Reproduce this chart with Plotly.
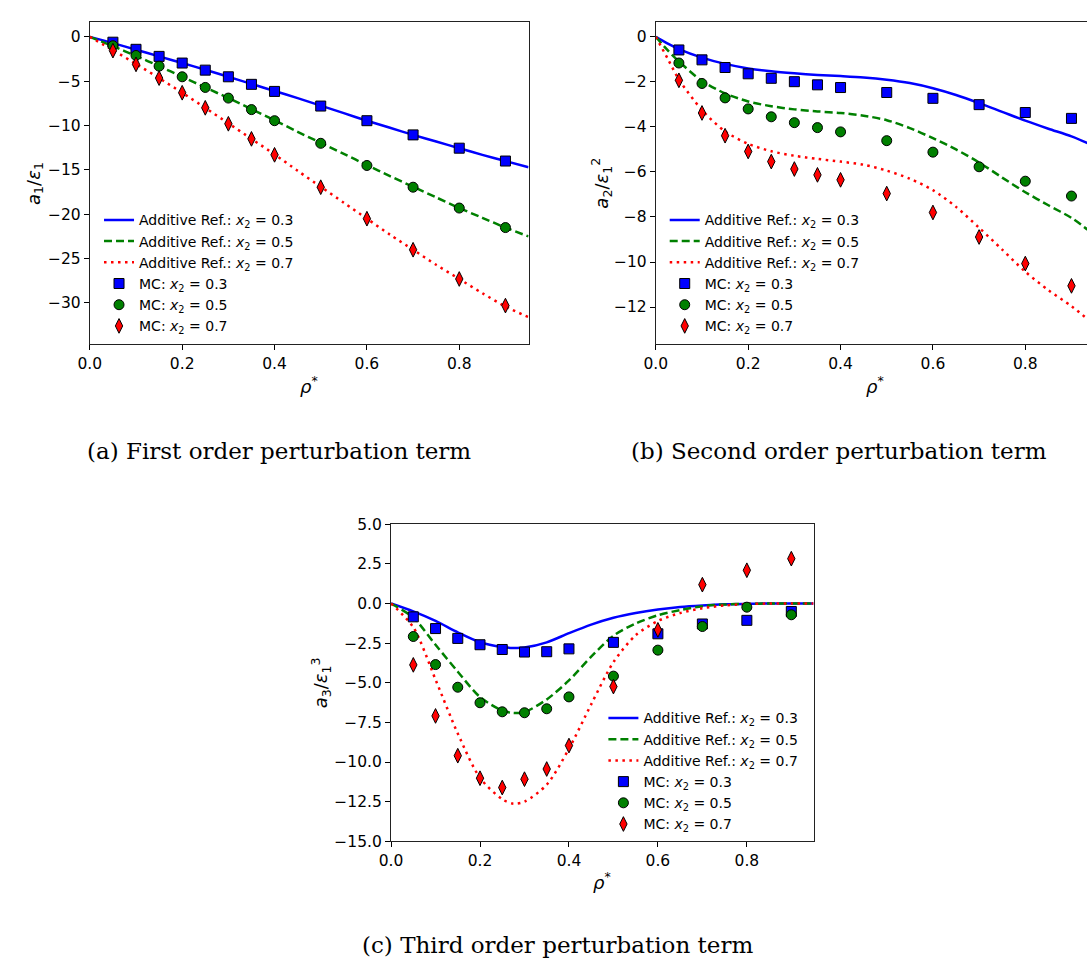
import plotly.graph_objects as go

# ---------------------------------------------------------------- data
# Monte Carlo state points (reduced density)
rho_mc = [0.05, 0.1, 0.15, 0.2, 0.25, 0.3, 0.35, 0.4, 0.5, 0.6, 0.7, 0.8, 0.9]

# First order term a1/eps1
a1_mc_03 = [-0.6, -1.4, -2.2, -2.95, -3.75, -4.5, -5.35, -6.15, -7.8, -9.45, -11.05, -12.55, -14.0]
a1_mc_05 = [-1.0, -2.1, -3.3, -4.5, -5.7, -6.9, -8.2, -9.45, -12.0, -14.5, -16.95, -19.3, -21.5]
a1_mc_07 = [-1.55, -3.1, -4.65, -6.3, -8.0, -9.8, -11.5, -13.3, -16.95, -20.5, -24.0, -27.3, -30.3]

rho_ref_a = [0.0, 0.05, 0.1, 0.15, 0.2, 0.25, 0.3, 0.35, 0.4, 0.45, 0.5,
             0.55, 0.6, 0.65, 0.7, 0.75, 0.8, 0.85, 0.9, 0.95]
a1_ref_03 = [0.0, -0.7, -1.45, -2.2, -2.95, -3.7, -4.5, -5.3, -6.1, -6.9, -7.75,
             -8.6, -9.45, -10.25, -11.05, -11.8, -12.55, -13.3, -14.0, -14.7]
a1_ref_05 = [0.0, -1.05, -2.15, -3.3, -4.5, -5.7, -6.9, -8.15, -9.4, -10.7, -11.95,
             -13.2, -14.45, -15.7, -16.9, -18.1, -19.3, -20.4, -21.5, -22.5]
a1_ref_07 = [0.0, -1.5, -3.05, -4.65, -6.3, -8.0, -9.75, -11.5, -13.25, -15.1, -16.9,
             -18.7, -20.5, -22.3, -24.0, -25.7, -27.3, -28.9, -30.4, -31.6]

# Second order term a2/eps1^2
a2_mc_03 = [-0.58, -1.02, -1.36, -1.64, -1.84, -1.99, -2.13, -2.25, -2.47, -2.73, -3.01, -3.36, -3.62]
a2_mc_05 = [-1.16, -2.07, -2.71, -3.2, -3.55, -3.81, -4.03, -4.22, -4.61, -5.12, -5.77, -6.41, -7.07]
a2_mc_07 = [-1.93, -3.38, -4.39, -5.09, -5.54, -5.87, -6.13, -6.35, -6.96, -7.8, -8.89, -10.07, -11.06]

rho_ref_b = [0.0, 0.025, 0.05, 0.1, 0.15, 0.2, 0.25, 0.3, 0.35, 0.4, 0.45,
             0.5, 0.55, 0.6, 0.65, 0.7, 0.75, 0.8, 0.85, 0.9, 0.95]
a2_ref_03 = [0.0, -0.29, -0.54, -0.92, -1.2, -1.4, -1.53, -1.62, -1.69, -1.74, -1.8,
             -1.9, -2.05, -2.28, -2.58, -2.94, -3.33, -3.72, -4.08, -4.42, -4.85]
a2_ref_05 = [0.0, -0.58, -1.09, -1.96, -2.51, -2.87, -3.08, -3.22, -3.31, -3.38, -3.5,
             -3.7, -4.05, -4.5, -5.0, -5.58, -6.25, -6.9, -7.48, -8.04, -8.8]
a2_ref_07 = [0.0, -0.94, -1.89, -3.25, -4.2, -4.75, -5.08, -5.28, -5.42, -5.54, -5.68,
             -5.94, -6.3, -6.81, -7.55, -8.48, -9.45, -10.43, -11.25, -11.96, -12.8]

# Third order term a3/eps1^3
a3_mc_03 = [-0.84, -1.58, -2.2, -2.6, -2.9, -3.06, -3.04, -2.86, -2.45, -1.91, -1.29, -1.06, -0.5]
a3_mc_05 = [-2.08, -3.85, -5.28, -6.26, -6.83, -6.89, -6.64, -5.89, -4.58, -2.94, -1.45, -0.23, -0.71]
a3_mc_07 = [-3.87, -7.09, -9.6, -11.02, -11.61, -11.08, -10.44, -8.96, -5.24, -1.66, 1.19, 2.1, 2.83]

rho_ref_c = [0.0, 0.05, 0.1, 0.15, 0.2, 0.25, 0.275, 0.3, 0.35, 0.4, 0.45,
             0.5, 0.55, 0.6, 0.65, 0.7, 0.75, 0.8, 0.85, 0.9, 0.95]
a3_ref_03 = [0.0, -0.5, -1.1, -1.82, -2.44, -2.74, -2.8, -2.78, -2.45, -1.87, -1.33,
             -0.9, -0.6, -0.38, -0.22, -0.12, -0.05, -0.02, 0.0, 0.0, 0.0]
a3_ref_05 = [0.0, -0.89, -2.6, -4.3, -5.9, -6.75, -6.9, -6.85, -6.05, -4.85, -3.35,
             -2.03, -1.26, -0.74, -0.41, -0.17, -0.06, -0.02, 0.0, 0.0, 0.0]
a3_ref_07 = [0.0, -1.5, -4.8, -8.2, -11.0, -12.35, -12.63, -12.5, -11.43, -9.16, -6.36,
             -3.7, -2.0, -1.1, -0.6, -0.3, -0.12, -0.04, 0.0, 0.0, 0.0]

compositions = ["0.3", "0.5", "0.7"]

# ---------------------------------------------------------------- styles
W, H = 1087, 972
TICK_FONT = dict(family="DejaVu Sans", size=15.5, color="black")
LEG_FONT = dict(family="DejaVu Sans", size=14, color="black")
LAB_FONT = dict(family="DejaVu Sans", size=18, color="black")
CAP_FONT = dict(family="DejaVu Serif", size=23, color="black")

line_styles = [
    dict(color="#0000ff", width=2.5, dash="solid"),
    dict(color="#008000", width=2.5, dash="8px,4px"),
    dict(color="#ff0000", width=2.5, dash="2.5px,4.5px"),
]
marker_styles = [
    dict(symbol="square", size=10, color="#0000ff", line=dict(color="black", width=1)),
    dict(symbol="circle", size=10, color="#008000", line=dict(color="black", width=1)),
    dict(symbol="diamond-tall", size=10.5, color="#ff0000", line=dict(color="black", width=1)),
]


def px_x(p):
    return p / W


def px_y(p):
    return 1 - p / H


fig = go.Figure()

panels = [
    ("", "legend", rho_ref_a, [a1_ref_03, a1_ref_05, a1_ref_07], [a1_mc_03, a1_mc_05, a1_mc_07]),
    ("2", "legend2", rho_ref_b, [a2_ref_03, a2_ref_05, a2_ref_07], [a2_mc_03, a2_mc_05, a2_mc_07]),
    ("3", "legend3", rho_ref_c, [a3_ref_03, a3_ref_05, a3_ref_07], [a3_mc_03, a3_mc_05, a3_mc_07]),
]

for suffix, leg, rho_ref, refs, mcs in panels:
    for comp, ys, st in zip(compositions, refs, line_styles):
        fig.add_trace(go.Scatter(
            x=rho_ref, y=ys, mode="lines", line=dict(shape="spline", smoothing=0.8, **st),
            name=f"Additive Ref.: <i>x</i><sub>2</sub> = {comp}",
            xaxis="x" + suffix, yaxis="y" + suffix, legend=leg,
        ))
    for comp, ys, ms in zip(compositions, mcs, marker_styles):
        fig.add_trace(go.Scatter(
            x=rho_mc, y=ys, mode="markers", marker=ms,
            name=f"MC: <i>x</i><sub>2</sub> = {comp}",
            xaxis="x" + suffix, yaxis="y" + suffix, legend=leg,
        ))


def xaxis(domain, rng, anchor, mirror=True):
    return dict(domain=domain, range=rng, anchor=anchor, tickvals=[0, 0.2, 0.4, 0.6, 0.8],
                tickformat=".1f", ticks="outside", ticklen=5, tickwidth=1, tickcolor="black",
                showline=True, linecolor="#222", linewidth=1.2, mirror=mirror,
                showgrid=False, zeroline=False, tickfont=TICK_FONT)


def yaxis(domain, rng, anchor, dtick, fmt, mirror=True):
    return dict(domain=domain, range=rng, anchor=anchor, dtick=dtick, tick0=0,
                tickformat=fmt, ticks="outside", ticklen=5, tickwidth=1, tickcolor="black",
                showline=True, linecolor="#222", linewidth=1.2, mirror=mirror,
                showgrid=False, zeroline=False, tickfont=TICK_FONT)


# panel geometry in pixels
a_l, a_r, ab_t, ab_b = 78.7, 522.3, 13.5, 341.5
b_l = 651.0
c_l, c_r, c_t, c_b = 383.3, 810.5, 525.0, 848.0
PX_PER_UNIT_B = 467.0

fig.update_layout(
    width=W, height=H, margin=dict(l=0, r=0, t=0, b=0),
    paper_bgcolor="white", plot_bgcolor="white",
    xaxis=xaxis([px_x(a_l), px_x(a_r)], [0, 0.95], "y"),
    yaxis=yaxis([px_y(ab_b), px_y(ab_t)], [-34.65, 1.65], "x", 5, "d"),
    xaxis2=xaxis([px_x(b_l), 1.0], [0, (W - b_l) / PX_PER_UNIT_B], "y2"),
    yaxis2=yaxis([px_y(ab_b), px_y(ab_t)], [-13.65, 0.65], "x2", 2, "d", mirror=False),
    xaxis3=xaxis([px_x(c_l), px_x(c_r)], [0, 0.95], "y3"),
    yaxis3=yaxis([px_y(c_b), px_y(c_t)], [-15, 5], "x3", 2.5, ".1f"),
    showlegend=True,
)

legend_common = dict(xanchor="left", yanchor="top", bgcolor="rgba(0,0,0,0)",
                     borderwidth=0, font=LEG_FONT, tracegroupgap=0, itemwidth=30)
fig.update_layout(
    legend=dict(x=px_x(88), y=px_y(199), **legend_common),
    legend2=dict(x=px_x(660), y=px_y(199), **legend_common),
    legend3=dict(x=px_x(598), y=px_y(706.5), **legend_common),
)

annotations = [
    # axis labels
    dict(x=px_x(23), y=px_y((ab_t + ab_b) / 2), text="<i>a</i><sub>1</sub>/<i>ε</i><sub>1</sub>",
         textangle=-90, font=LAB_FONT),
    dict(x=px_x(596), y=px_y((ab_t + ab_b) / 2), text="<i>a</i><sub>2</sub>/<i>ε</i><sub>1</sub><sup>2</sup>",
         textangle=-90, font=LAB_FONT),
    dict(x=px_x(312), y=px_y((c_t + c_b) / 2), text="<i>a</i><sub>3</sub>/<i>ε</i><sub>1</sub><sup>3</sup>",
         textangle=-90, font=LAB_FONT),
    dict(x=px_x((a_l + a_r) / 2), y=px_y(383), text="<i>ρ</i><sup>*</sup>", font=LAB_FONT),
    dict(x=px_x(b_l + 222), y=px_y(383), text="<i>ρ</i><sup>*</sup>", font=LAB_FONT),
    dict(x=px_x((c_l + c_r) / 2), y=px_y(888), text="<i>ρ</i><sup>*</sup>", font=LAB_FONT),
    # sub-figure captions
    dict(x=px_x(270), y=px_y(450), text="(a) First order perturbation term", font=CAP_FONT),
    dict(x=px_x(836), y=px_y(450), text="(b) Second order perturbation term", font=CAP_FONT),
    dict(x=px_x(552), y=px_y(954), text="(c) Third order perturbation term", font=CAP_FONT),
]
for a in annotations:
    a.update(xref="paper", yref="paper", showarrow=False, xanchor="center", yanchor="middle")
fig.update_layout(annotations=annotations)

fig.write_html("out.html")
